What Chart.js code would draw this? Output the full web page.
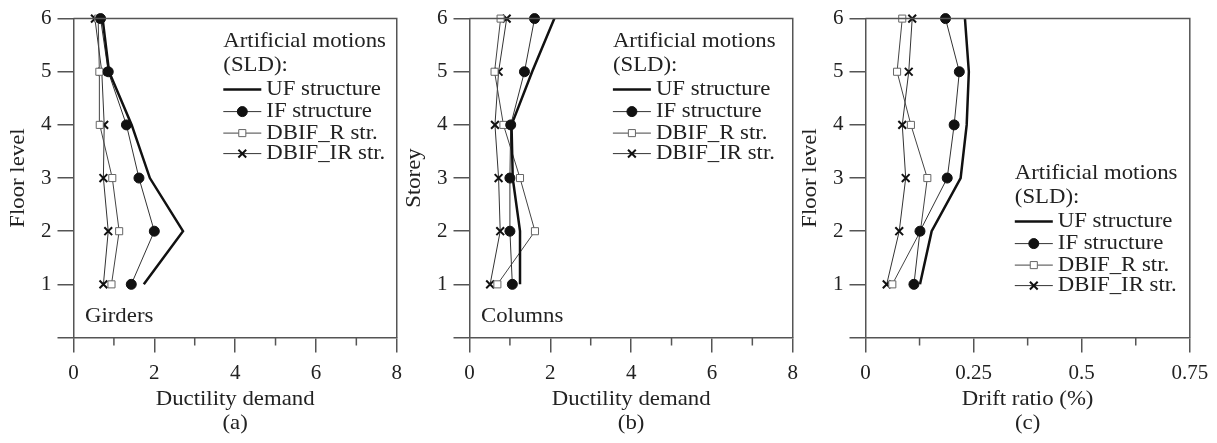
<!DOCTYPE html>
<html>
<head>
<meta charset="utf-8">
<script src="https://cdn.jsdelivr.net/npm/chart.js@4.4.1/dist/chart.umd.min.js"></script>
<style>
  body { margin: 0; background: #fff; }
  canvas { position: absolute; top: 0; }
</style>
</head>
<body>
<canvas id="chartA" style="left:0px"></canvas>
<canvas id="chartB" style="left:396px"></canvas>
<canvas id="chartC" style="left:792px"></canvas>
<script>
// niveaux (floor level / storey)
var niveaux = [1, 2, 3, 4, 5, 6];
var nomsSeries = ["UF structure", "IF structure", "DBIF_R str.", "DBIF_IR str."];

// (a) girders - ductility demand
var poutresUF = [1.74, 2.71, 1.89, 1.44, 0.88, 0.72];
var poutresIF = [1.43, 2.00, 1.62, 1.31, 0.86, 0.67];
var poutresR  = [0.94, 1.13, 0.96, 0.65, 0.64, 0.61];
var poutresIR = [0.74, 0.86, 0.74, 0.76, 0.70, 0.53];

// (b) columns - ductility demand
var poteauxUF = [1.25, 1.25, 1.07, 1.04, 1.55, 2.10];
var poteauxIF = [1.06, 1.00, 1.00, 1.02, 1.36, 1.61];
var poteauxR  = [0.69, 1.62, 1.25, 0.84, 0.62, 0.77];
var poteauxIR = [0.51, 0.76, 0.72, 0.63, 0.72, 0.92];

// (c) drift ratio (%)
var deriveUF = [0.126, 0.153, 0.220, 0.234, 0.239, 0.230];
var deriveIF = [0.112, 0.126, 0.189, 0.205, 0.217, 0.185];
var deriveR  = [0.062, 0.127, 0.143, 0.105, 0.073, 0.085];
var deriveIR = [0.049, 0.078, 0.093, 0.085, 0.100, 0.108];

// tick labels
var ticksDuctilite = [0, 2, 4, 6, 8];
var ticksDerive = [0, 0.25, 0.5, 0.75];

Chart.defaults.font.family = "'Liberation Serif', 'Times New Roman', serif";
Chart.defaults.font.size = 21;
Chart.defaults.color = "#222";

var AXE = "#555";
var ETIRE = 1.085; // le texte de la figure est un peu plus large

function points(valeurs) {
  return valeurs.map(function (v, i) { return { x: v, y: niveaux[i] }; });
}

function styles() {
  return [
    { borderColor: "#111", borderWidth: 2.5, pointRadius: 0, pointStyle: false },
    { borderColor: "#333", borderWidth: 1, pointStyle: "circle", pointRadius: 5, pointBackgroundColor: "#111", pointBorderColor: "#111", pointBorderWidth: 1 },
    { borderColor: "#444", borderWidth: 1, pointStyle: "rect", pointRadius: 5, pointBackgroundColor: "#fff", pointBorderColor: "#666", pointBorderWidth: 1 },
    { borderColor: "#333", borderWidth: 1, pointStyle: "crossRot", pointRadius: 5.5, pointBackgroundColor: "#111", pointBorderColor: "#111", pointBorderWidth: 2 }
  ];
}

function texte(ctx, s, x, y, align, rot) {
  ctx.save();
  ctx.translate(x, y);
  if (rot) ctx.rotate(rot);
  ctx.scale(ETIRE, 1);
  ctx.textAlign = align;
  ctx.fillText(s, 0, 0);
  ctx.restore();
}

function dessinerMarqueur(ctx, ds, x, y) {
  var r = ds.pointRadius;
  ctx.save();
  ctx.lineWidth = ds.pointBorderWidth;
  ctx.strokeStyle = ds.pointBorderColor;
  ctx.fillStyle = ds.pointBackgroundColor;
  ctx.beginPath();
  if (ds.pointStyle === "circle") {
    ctx.arc(x, y, r, 0, Math.PI * 2);
    ctx.fill(); ctx.stroke();
  } else if (ds.pointStyle === "rect") {
    var s = r * Math.SQRT1_2;
    ctx.rect(x - s, y - s, 2 * s, 2 * s);
    ctx.fill(); ctx.stroke();
  } else if (ds.pointStyle === "crossRot") {
    var d = r * Math.SQRT1_2;
    ctx.moveTo(x - d, y - d); ctx.lineTo(x + d, y + d);
    ctx.moveTo(x - d, y + d); ctx.lineTo(x + d, y - d);
    ctx.stroke();
  }
  ctx.restore();
}

var decor = {
  id: "decor",
  afterDatasetsDraw: function (chart, args, opts) {
    var ctx = chart.ctx, a = chart.chartArea, sx = chart.scales.x;
    ctx.save();
    // cadre haut / droite + ticks mineurs
    ctx.strokeStyle = AXE;
    ctx.lineWidth = 1.5;
    ctx.beginPath();
    ctx.moveTo(a.left, a.top); ctx.lineTo(a.right, a.top); ctx.lineTo(a.right, a.bottom);
    opts.mineurs.forEach(function (v) {
      var px = sx.getPixelForValue(v);
      ctx.moveTo(px, a.bottom); ctx.lineTo(px, a.bottom + 8);
    });
    ctx.stroke();

    ctx.fillStyle = "#222";
    ctx.font = "21px 'Liberation Serif', serif";
    ctx.textBaseline = "middle";
    texte(ctx, opts.titreX, (a.left + a.right) / 2, a.bottom + 61.5, "center");
    texte(ctx, opts.legende, (a.left + a.right) / 2, a.bottom + 85.5, "center");
    texte(ctx, opts.titreY, a.left - 55.5, (a.top + a.bottom) / 2, "center", -Math.PI / 2);
    if (opts.note) texte(ctx, opts.note, a.left + 11.5, a.bottom - 21, "left");

    // légende
    var lx = a.left + opts.legX, ly = a.top + opts.legY;
    var dy = [0, 23.5, 48, 70, 91.5, 112];
    texte(ctx, "Artificial motions", lx, ly + dy[0], "left");
    texte(ctx, "(SLD):", lx, ly + dy[1], "left");
    chart.data.datasets.forEach(function (ds, i) {
      var y = ly + dy[i + 2];
      ctx.strokeStyle = ds.borderColor;
      ctx.lineWidth = ds.borderWidth;
      ctx.beginPath(); ctx.moveTo(lx, y); ctx.lineTo(lx + 38, y); ctx.stroke();
      if (ds.pointStyle) dessinerMarqueur(ctx, ds, lx + 19, y);
      ctx.fillStyle = "#222";
      texte(ctx, ds.label, lx + 43, y, "left");
    });
    ctx.restore();
  }
};

function creerGraphe(id, largeur, series, xMax, ticksX, extra) {
  var canvas = document.getElementById(id);
  canvas.width = largeur; canvas.height = 443;
  canvas.style.width = largeur + "px"; canvas.style.height = "443px";
  var st = styles();
  var datasets = series.map(function (s, i) {
    return Object.assign({ label: nomsSeries[i], data: points(s), fill: false, tension: 0, clip: false }, st[i]);
  });
  return new Chart(canvas, {
    type: "line",
    data: { datasets: datasets },
    plugins: [decor],
    options: {
      responsive: false,
      animation: false,
      layout: { padding: { left: 0, right: largeur - 73.5 - 324.3, top: 14, bottom: 0 } },
      plugins: { legend: { display: false }, tooltip: { enabled: false }, decor: extra },
      scales: {
        x: {
          type: "linear", min: 0, max: xMax,
          afterFit: function (s) { s.height = 443 - 337.5; },
          afterBuildTicks: function (s) { s.ticks = ticksX.map(function (v) { return { value: v }; }); },
          ticks: { padding: 8, callback: function (v) { return String(v); }, maxRotation: 0 },
          grid: { drawOnChartArea: false, tickLength: 15, color: AXE, lineWidth: 1.5 },
          border: { color: AXE, width: 1.5 }
        },
        y: {
          type: "linear", min: 0, max: 6,
          afterFit: function (s) { s.width = 73.5; },
          afterBuildTicks: function (s) { s.ticks = niveaux.concat([0]).sort().map(function (v) { return { value: v }; }); },
          ticks: { padding: 6, callback: function (v) { return v === 0 ? "" : String(v); } },
          grid: { drawOnChartArea: false, tickLength: 16, color: AXE, lineWidth: 1.5 },
          border: { color: AXE, width: 1.5 }
        }
      }
    }
  });
}

creerGraphe("chartA", 410, [poutresUF, poutresIF, poutresR, poutresIR], 8, ticksDuctilite,
  { titreX: "Ductility demand", legende: "(a)", titreY: "Floor level", note: "Girders", legX: 149.8, legY: 23, mineurs: [1, 3, 5, 7] });
creerGraphe("chartB", 410, [poteauxUF, poteauxIF, poteauxR, poteauxIR], 8, ticksDuctilite,
  { titreX: "Ductility demand", legende: "(b)", titreY: "Storey", note: "Columns", legX: 143.4, legY: 23, mineurs: [1, 3, 5, 7] });
creerGraphe("chartC", 425, [deriveUF, deriveIF, deriveR, deriveIR], 0.75, ticksDerive,
  { titreX: "Drift ratio (%)", legende: "(c)", titreY: "Floor level", note: "", legX: 149.3, legY: 155, mineurs: [0.125, 0.375, 0.625] });
</script>
</body>
</html>
